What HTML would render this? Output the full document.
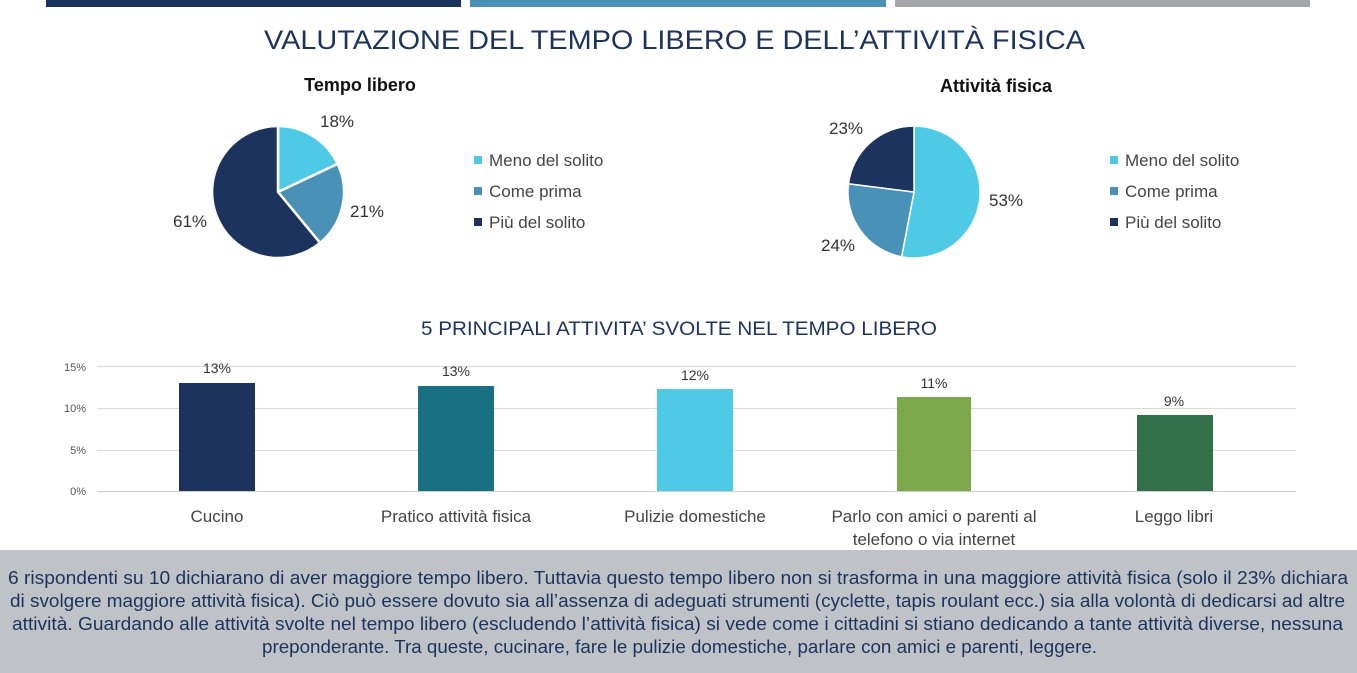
<!DOCTYPE html>
<html><head><meta charset="utf-8"><style>
html,body{margin:0;padding:0;background:#fff;}
svg{display:block;font-family:"Liberation Sans",sans-serif;}
</style></head><body>
<svg width="1357" height="673" viewBox="0 0 1357 673" xmlns="http://www.w3.org/2000/svg">
<rect x="46" y="0" width="415" height="7" fill="#1c335e"/>
<rect x="470" y="0" width="416" height="7" fill="#4a91b8"/>
<rect x="895" y="0" width="415" height="7" fill="#a3a7ab"/>
<text x="264" y="49" font-size="27" fill="#1c335e" textLength="821" lengthAdjust="spacingAndGlyphs">VALUTAZIONE  DEL TEMPO LIBERO E DELL’ATTIVITÀ FISICA</text>

<text x="360" y="91" font-size="18" font-weight="bold" fill="#111" text-anchor="middle">Tempo libero</text>
<g stroke="#fff" stroke-width="2.5" stroke-linejoin="round">
<path d="M278,192 L278,126 A66,66 0 0 1 337.7,163.9 Z" fill="#4ecae6"/>
<path d="M278,192 L337.7,163.9 A66,66 0 0 1 320.1,242.9 Z" fill="#4a91b8"/>
<path d="M278,192 L320.1,242.9 A66,66 0 1 1 278,126 Z" fill="#1c335e"/>
</g>
<g font-size="17" fill="#333">
<text x="320" y="127">18%</text>
<text x="350" y="217">21%</text>
<text x="173" y="227">61%</text>
</g>
<g font-size="17" fill="#444">
<rect x="474" y="156" width="8" height="8" fill="#4ecae6"/><text x="489" y="166">Meno del solito</text>
<rect x="474" y="187" width="8" height="8" fill="#4a91b8"/><text x="489" y="197">Come prima</text>
<rect x="474" y="218" width="8" height="8" fill="#1c335e"/><text x="489" y="228">Più del solito</text>
</g>

<text x="996" y="92" font-size="18" font-weight="bold" fill="#111" text-anchor="middle">Attività fisica</text>
<g stroke="#fff" stroke-width="1.5" stroke-linejoin="round">
<path d="M914,192 L914,126 A66,66 0 1 1 901.6,256.8 Z" fill="#4ecae6"/>
<path d="M914,192 L901.6,256.8 A66,66 0 0 1 848.5,183.7 Z" fill="#4a91b8"/>
<path d="M914,192 L848.5,183.7 A66,66 0 0 1 914,126 Z" fill="#1c335e"/>
</g>
<g font-size="17" fill="#333">
<text x="829" y="134">23%</text>
<text x="989" y="206">53%</text>
<text x="821" y="251">24%</text>
</g>
<g font-size="17" fill="#444">
<rect x="1110" y="156" width="8" height="8" fill="#4ecae6"/><text x="1125" y="166">Meno del solito</text>
<rect x="1110" y="187" width="8" height="8" fill="#4a91b8"/><text x="1125" y="197">Come prima</text>
<rect x="1110" y="218" width="8" height="8" fill="#1c335e"/><text x="1125" y="228">Più del solito</text>
</g>

<text x="679" y="335" font-size="19" fill="#1c335e" text-anchor="middle" textLength="516" lengthAdjust="spacingAndGlyphs">5 PRINCIPALI ATTIVITA’ SVOLTE NEL TEMPO LIBERO</text>
<g stroke="#d9d9d9" stroke-width="1">
<line x1="97" y1="366.5" x2="1296" y2="366.5"/>
<line x1="97" y1="408.5" x2="1296" y2="408.5"/>
<line x1="97" y1="450.5" x2="1296" y2="450.5"/>
<line x1="97" y1="491.5" x2="1296" y2="491.5" stroke="#cfcfcf"/>
</g>
<g font-size="11" fill="#555" text-anchor="end">
<text x="86" y="371">15%</text><text x="86" y="412">10%</text><text x="86" y="454">5%</text><text x="86" y="495">0%</text>
</g>
<rect x="179" y="383" width="76" height="108" fill="#1c335e"/>
<rect x="418" y="386" width="76" height="105" fill="#1a7083"/>
<rect x="657" y="389" width="76" height="102" fill="#4ecae6"/>
<rect x="897" y="397" width="74" height="94" fill="#7ba84a"/>
<rect x="1137" y="415" width="76" height="76" fill="#327049"/>
<g font-size="14" fill="#333" text-anchor="middle">
<text x="217" y="373">13%</text><text x="456" y="376">13%</text><text x="695" y="380">12%</text><text x="934" y="388">11%</text><text x="1174" y="406">9%</text>
</g>
<g font-size="17" fill="#444" text-anchor="middle">
<text x="217" y="522">Cucino</text>
<text x="456" y="522">Pratico attività fisica</text>
<text x="695" y="522">Pulizie domestiche</text>
<text x="934" y="522">Parlo con amici o parenti al</text>
<text x="934" y="545">telefono o via internet</text>
<text x="1174" y="522">Leggo libri</text>
</g>

<rect x="0" y="550" width="1357" height="123" fill="#bfc3c7"/>
<g font-size="18" fill="#1c335e">
<text x="8" y="584" textLength="1340" lengthAdjust="spacingAndGlyphs">6 rispondenti su 10 dichiarano di aver maggiore tempo libero. Tuttavia questo tempo libero non si trasforma in una maggiore attività fisica (solo il 23% dichiara</text>
<text x="10" y="607" textLength="1335" lengthAdjust="spacingAndGlyphs">di svolgere maggiore attività fisica). Ciò può essere dovuto sia all’assenza di adeguati strumenti (cyclette, tapis roulant ecc.) sia alla volontà di dedicarsi ad altre</text>
<text x="12" y="630" textLength="1331" lengthAdjust="spacingAndGlyphs">attività. Guardando alle attività svolte nel tempo libero (escludendo l’attività fisica) si vede come i cittadini si stiano dedicando a tante attività diverse, nessuna</text>
<text x="262" y="653" textLength="835" lengthAdjust="spacingAndGlyphs">preponderante. Tra queste, cucinare, fare le pulizie domestiche, parlare con amici e parenti, leggere.</text>
</g>
</svg>
</body></html>
